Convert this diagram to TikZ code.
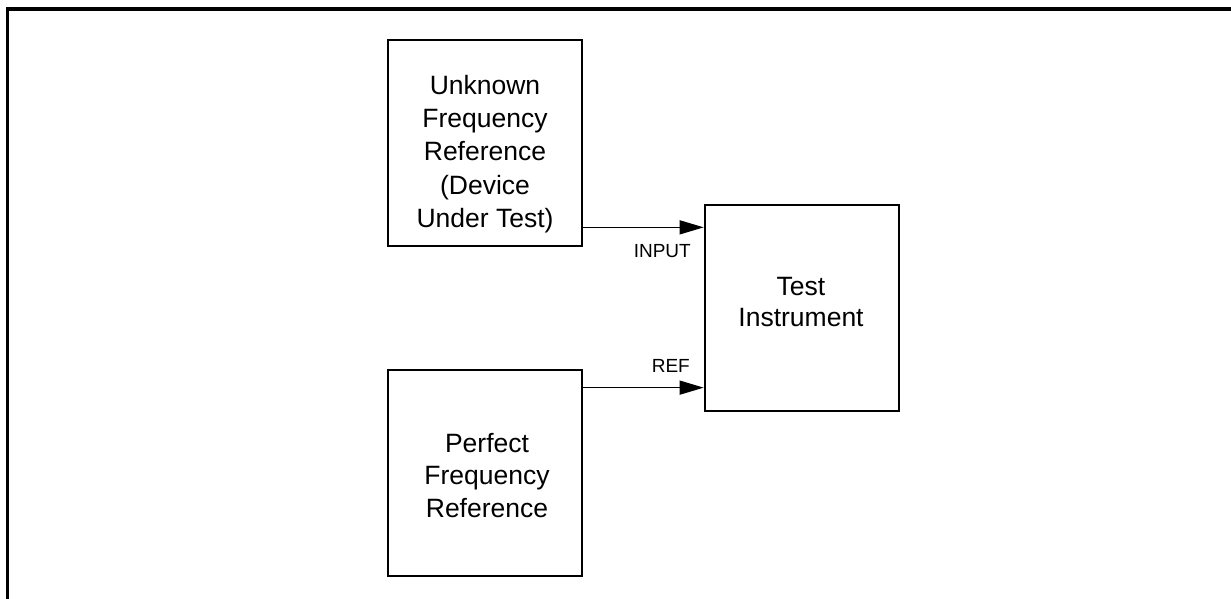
\documentclass[tikz,border=0pt]{standalone}
\usepackage{fontspec}
\setmainfont{Liberation Sans}
\usetikzlibrary{arrows.meta}
\begin{document}
\begin{tikzpicture}[x=1pt,y=-1pt,
  box/.style={draw,line width=2.7pt,minimum width=194pt,minimum height=206pt,inner sep=0pt},
  boxtext/.style={align=center,anchor=base,inner sep=0pt,font={\fontsize{26.5}{33.2}\selectfont}},
  lbl/.style={anchor=base east,inner sep=0pt,font={\fontsize{19}{22}\selectfont}},
  arr/.style={line width=1.4pt,-{Triangle[length=24pt,width=14pt]}}]
\useasboundingbox (0,0) rectangle (1231,599);
% frame
\draw[line width=3.2pt] (7.5,600) -- (7.5,9) -- (1231,9);
% boxes
\node[box] (unk) at (485,143) {};
\node[box] (per) at (485,473) {};
\node[box] (ti) at (802,308) {};
% texts (anchor base = baseline of the last line)
\node[boxtext] (unkt) at (485,227.3) {Unknown\\Frequency\\Reference\\(Device\\Under Test)};
\node[boxtext,font={\fontsize{26.5}{32.7}\selectfont}] (pert) at (487,517.4) {Perfect\\Frequency\\Reference};
\node[boxtext,font={\fontsize{26.5}{31}\selectfont}] (tit) at (801,326.5) {Test\\Instrument};
% connectors
\draw[arr] ([yshift=20pt]unk.south east) coordinate (a1) -- (a1 -| ti.west);
\draw[arr] ([yshift=-19pt]per.north east) coordinate (a2) -- (a2 -| ti.west);
% labels
\node[lbl] (inl) at (691,257) {INPUT};
\node[lbl] (refl) at (690,372) {REF};
\end{tikzpicture}
\end{document}
